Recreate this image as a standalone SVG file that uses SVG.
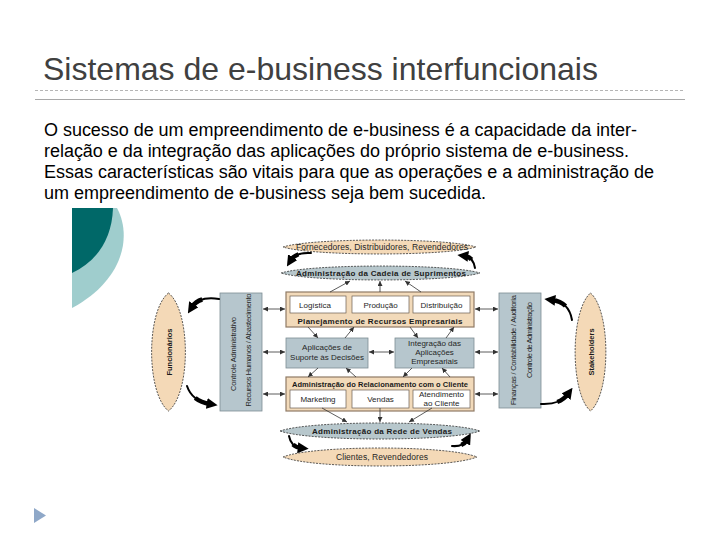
<svg xmlns="http://www.w3.org/2000/svg" width="720" height="540" viewBox="0 0 720 540">
<style>
.t{font-family:"Liberation Sans",Arial,sans-serif;fill:#262626}
.b{font-weight:bold;fill:#1a1a1a}
.peach{fill:#F4D9B7;stroke:#333;stroke-width:0.8;stroke-dasharray:2 1.2}
.grayel{fill:#B7C7CC;stroke:#333;stroke-width:0.8;stroke-dasharray:2 1.2}
.gbox{fill:#B6C6CD;stroke:#7d8d93;stroke-width:0.8}
.pbox{fill:#F2DABA;stroke:#8f7b66;stroke-width:1.2}
.wbox{fill:#fff;stroke:#6b5d50;stroke-width:0.7}
.c{fill:none;stroke:#333;stroke-width:0.8;marker-end:url(#ah)}
.d{marker-start:url(#ah)}
.sw1{fill:none;stroke:#000;stroke-width:2;stroke-linecap:round}
.sw2{fill:none;stroke:#000;stroke-width:4.5;marker-end:url(#sw)}
</style>
<defs>
<marker id="ah" viewBox="0 0 6 6" markerWidth="5" markerHeight="5" refX="6" refY="3" orient="auto-start-reverse" markerUnits="userSpaceOnUse"><path d="M0,0 L6,3 L0,6 Z" fill="#333"/></marker>
<marker id="sw" viewBox="0 0 10 10" markerWidth="11" markerHeight="11" refX="3" refY="5" orient="auto" markerUnits="userSpaceOnUse"><path d="M0,0 L10,5 L0,10 Z" fill="#000"/></marker>
</defs>
<rect width="720" height="540" fill="#fff"/>

<g id="title">
<text x="43" y="80" class="t" style="font-size:32px;fill:#404040">Sistemas de e-business interfuncionais</text>
<line x1="35" y1="90.5" x2="685" y2="90.5" stroke="#b5b5b5" stroke-width="1" stroke-dasharray="3 2"/>
<line x1="35" y1="99.5" x2="685" y2="99.5" stroke="#a8a8a8" stroke-width="1.2"/>
</g>

<g id="paragraph" class="t" style="font-size:18px;fill:#000">
<text x="44" y="136" textLength="593" lengthAdjust="spacing">O sucesso de um empreendimento de e-business é a capacidade da inter-</text>
<text x="44" y="157" textLength="585" lengthAdjust="spacing">relação e da integração das aplicações do próprio sistema de e-business.</text>
<text x="44" y="178" textLength="610" lengthAdjust="spacing">Essas características são vitais para que as operações e a administração de</text>
<text x="44" y="199" textLength="442" lengthAdjust="spacing">um empreendimento de e-business seja bem sucedida.</text>
</g>

<g id="decoration">
<path d="M72,208 L117,208 C132,236 124,280 72,308 Z" fill="#9FCDCD"/>
<path d="M72,208 L113,208 C112,240 96,262 72,273 Z" fill="#006868"/>
<path d="M34,508 L46,515.5 L34,523 Z" fill="#8FA8C8"/>
</g>

<g id="fornecedores">
<path class="peach" d="M283,247 C312,237.7 447,237.7 476,247 C447,256.3 312,256.3 283,247 Z"/>
<text class="t" x="382" y="250" text-anchor="middle" style="font-size:8.5px" textLength="172">Fornecedores, Distribuidores, Revendedores</text>
</g>
<g id="cadeia">
<path class="grayel" d="M281,273 C311,263.7 450,263.7 480,273 C450,282.3 311,282.3 281,273 Z"/>
<text class="t b" x="381" y="276" text-anchor="middle" style="font-size:8px" textLength="170">Administração da Cadeia de Suprimentos</text>
</g>

<g id="funcionarios">
<path class="peach" d="M168.5,293 C191,310.7 191,393.3 168.5,411 C146,393.3 146,310.7 168.5,293 Z"/>
<text class="t b" transform="translate(171.5,352) rotate(-90)" text-anchor="middle" style="font-size:7.5px">Funcionários</text>
</g>

<g id="controle-adm">
<rect class="gbox" x="220" y="293" width="42" height="118"/>
<text class="t" transform="translate(236,354) rotate(-90)" text-anchor="middle" style="font-size:7.5px" textLength="74">Controle Administrativo</text>
<text class="t" transform="translate(251,350) rotate(-90)" text-anchor="middle" style="font-size:7.5px" textLength="113">Recursos Humanos / Abastecimento</text>
</g>

<g id="erp">
<rect class="pbox" x="286" y="292" width="188" height="35"/>
<rect class="wbox" x="290" y="296" width="56" height="17"/>
<rect class="wbox" x="352" y="296" width="57" height="17"/>
<rect class="wbox" x="413" y="296" width="57" height="17"/>
<text class="t" x="315" y="308" text-anchor="middle" style="font-size:8px">Logística</text>
<text class="t" x="380.5" y="308" text-anchor="middle" style="font-size:8px">Produção</text>
<text class="t" x="441.5" y="308" text-anchor="middle" style="font-size:8px">Distribuição</text>
<text class="t b" x="380" y="323.5" text-anchor="middle" style="font-size:8px" textLength="165">Planejamento de Recursos Empresariais</text>
</g>

<g id="suporte-decisoes">
<rect class="gbox" x="286" y="338" width="82" height="30"/>
<text class="t" x="327" y="350" text-anchor="middle" style="font-size:8px">Aplicações de</text>
<text class="t" x="327" y="360" text-anchor="middle" style="font-size:8px">Suporte às Decisões</text>
</g>

<g id="integracao">
<rect class="gbox" x="395" y="338" width="79" height="30"/>
<text class="t" x="434.5" y="346" text-anchor="middle" style="font-size:8px">Integração das</text>
<text class="t" x="434.5" y="355" text-anchor="middle" style="font-size:8px">Aplicações</text>
<text class="t" x="434.5" y="364" text-anchor="middle" style="font-size:8px">Empresariais</text>
</g>

<g id="crm">
<rect class="pbox" x="286" y="377" width="188" height="34"/>
<rect class="wbox" x="290" y="390" width="56" height="18"/>
<rect class="wbox" x="352" y="390" width="57" height="18"/>
<rect class="wbox" x="413" y="390" width="57" height="18"/>
<text class="t b" x="380" y="386.5" text-anchor="middle" style="font-size:7.5px" textLength="176">Administração do Relacionamento com o Cliente</text>
<text class="t" x="318" y="402" text-anchor="middle" style="font-size:8px">Marketing</text>
<text class="t" x="380.5" y="402" text-anchor="middle" style="font-size:8px">Vendas</text>
<text class="t" x="441.5" y="397" text-anchor="middle" style="font-size:8px">Atendimento</text>
<text class="t" x="441.5" y="406" text-anchor="middle" style="font-size:8px">ao Cliente</text>
</g>

<g id="financas">
<rect class="gbox" x="499" y="293" width="42" height="115"/>
<text class="t" transform="translate(516,350) rotate(-90)" text-anchor="middle" style="font-size:7.5px" textLength="110">Finanças / Contabilidade / Auditoria</text>
<text class="t" transform="translate(532,340) rotate(-90)" text-anchor="middle" style="font-size:7.5px" textLength="76">Controle de Administração</text>
</g>

<g id="stakeholders">
<path class="peach" d="M590.5,293 C611,310.7 611,393.3 590.5,411 C570,393.3 570,310.7 590.5,293 Z"/>
<text class="t b" transform="translate(593.5,352) rotate(-90)" text-anchor="middle" style="font-size:7.5px">Stakeholders</text>
</g>

<g id="rede-vendas">
<path class="grayel" d="M280,431 C310,420.3 450,420.3 480,431 C450,441.7 310,441.7 280,431 Z"/>
<text class="t b" x="382" y="434" text-anchor="middle" style="font-size:8px" textLength="140">Administração da Rede de Vendas</text>
</g>

<g id="clientes">
<path class="peach" d="M283,457 C312,445 448,445 477,457 C448,469 312,469 283,457 Z"/>
<text class="t" x="382" y="460" text-anchor="middle" style="font-size:8.5px" textLength="92">Clientes, Revendedores</text>
</g>

<g id="connectors">
<path class="c d" d="M263,309 L285,309"/>
<path class="c d" d="M263,352 L285,352"/>
<path class="c d" d="M263,394 L285,394"/>
<path class="c d" d="M475,309 L498,309"/>
<path class="c d" d="M475,352 L498,352"/>
<path class="c d" d="M475,394 L498,394"/>
<path class="c d" d="M369,352 L394,352"/>
<path class="c" d="M330,292 L350,281"/>
<path class="c" d="M380,292 L380,281"/>
<path class="c" d="M421,292 L405,281"/>
<path class="c" d="M308,327 L318,338"/>
<path class="c" d="M345,338 L354,327"/>
<path class="c" d="M410,327 L418,338"/>
<path class="c" d="M446,338 L454,327"/>
<path class="c" d="M318,368 L308,377"/>
<path class="c" d="M356,377 L346,368"/>
<path class="c" d="M412,368 L403,377"/>
<path class="c" d="M450,377 L442,368"/>
<path class="c" d="M322,408 L347,422"/>
<path class="c" d="M380,408 L380,422"/>
<path class="c" d="M432,408 L409,422"/>
<path class="sw1" d="M311,253 Q296,252 291,260"/>
<path class="sw2" d="M298.5,254.25 Q293.5,256 291,260"/>
<path class="sw1" d="M475,268 Q473,257 465,256"/>
<path class="sw2" d="M471.5,259.5 Q469,256.5 465,256"/>
<path class="sw1" d="M219,299 Q199,296 192,307"/>
<path class="sw2" d="M202.25,299.5 Q195.5,301.5 192,307"/>
<path class="sw1" d="M187,386 Q192,401 210,404"/>
<path class="sw2" d="M195.25,398 Q201,402.5 210,404"/>
<path class="sw1" d="M572,320 Q569,302 552,300"/>
<path class="sw2" d="M565.5,306 Q560.5,301 552,300"/>
<path class="sw1" d="M541,404 Q560,405 568,394"/>
<path class="sw2" d="M557.25,402 Q564,399.5 568,394"/>
<path class="sw1" d="M289,436 Q291,447 301,448"/>
<path class="sw2" d="M293,444.5 Q296,447.5 301,448"/>
<path class="sw1" d="M452,446 Q463,447 467,440"/>
<path class="sw2" d="M461.25,445 Q465,443.5 467,440"/>
</g>
</svg>
